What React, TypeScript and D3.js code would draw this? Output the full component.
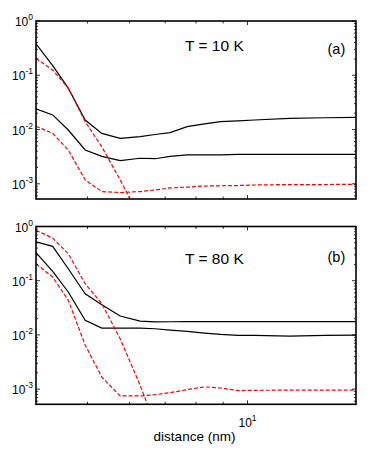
import React from "react";
import * as d3 from "d3";

// distance grid (nm)
const distance = [4.0, 4.3, 4.6, 4.95, 5.32, 5.76, 6.28, 6.7, 7.15, 7.7, 8.3, 8.9, 9.6, 10.3, 12, 14, 16];

// panel (a), T = 10 K
const solidHighA = [0.38, 0.15, 0.058, 0.015, 0.0085, 0.0069, 0.0074, 0.0081, 0.0088, 0.0113, 0.0127, 0.014, 0.0144, 0.015, 0.016, 0.0165, 0.0168];
const solidLowA = [0.024, 0.0186, 0.0098, 0.0042, 0.0032, 0.00267, 0.00296, 0.0029, 0.0032, 0.0034, 0.0034, 0.0034, 0.0035, 0.0035, 0.0035, 0.0035, 0.0035];
const dashHighA = [0.205, 0.125, 0.058, 0.014, 0.0048, 0.00118, 0.00023, null, null, null, null, null, null, null, null, null, null];
const dashLowA = [0.0115, 0.0085, 0.0042, 0.00118, 0.00072, 0.00069, 0.00072, 0.00077, 0.00084, 0.00087, 0.00091, 0.00092, 0.00093, 0.00095, 0.00097, 0.00097, 0.00098];

// panel (b), T = 80 K
const solidHighB = [0.52, 0.43, 0.166, 0.0575, 0.036, 0.0223, 0.018, 0.0174, 0.0175, 0.0176, 0.0176, 0.0176, 0.0176, 0.0176, 0.0176, 0.0176, 0.0176];
const solidLowB = [0.33, 0.149, 0.062, 0.0186, 0.0134, 0.0134, 0.0134, 0.013, 0.0123, 0.0116, 0.0108, 0.0102, 0.0098, 0.0098, 0.0095, 0.0098, 0.0099];
const dashHighB = [0.85, 0.61, 0.315, 0.088, 0.0377, 0.0085, 0.00118, 0.00022, null, null, null, null, null, null, null, null, null];
const dashLowB = [0.206, 0.117, 0.0435, 0.0065, 0.00167, 0.00075, 0.00075, 0.00079, 0.00086, 0.00098, 0.0011, 0.00105, 0.00094, 0.00095, 0.00096, 0.00096, 0.00096];

const yMajor = [1, 1e-1, 1e-2, 1e-3];
const yMajorExp = ["0", "-1", "-2", "-3"];
const xMinor = [5, 6, 7, 8, 9];
const xMajor = [10];
const xMajorExp = ["1"];

const W = 374;
const H = 450;
const left = 36;
const right = 356;
const font = "'Liberation Sans', Arial, Helvetica, sans-serif";

const panels = [
  { id: "a", top: 21, bottom: 199, title: "T = 10 K", tag: "(a)", titleY: 50.5, tagY: 54, series: [solidHighA, solidLowA, dashHighA, dashLowA], xLabels: false },
  { id: "b", top: 226.5, bottom: 404.3, title: "T = 80 K", tag: "(b)", titleY: 263.5, tagY: 262, series: [solidHighB, solidLowB, dashHighB, dashLowB], xLabels: true },
];

const x = d3.scaleLog().domain([4, 16]).range([left, right]);

function yMinorTicks(lo: number, hi: number) {
  const out: number[] = [];
  for (let e = -4; e <= 0; e++) {
    for (let k = 2; k <= 9; k++) {
      const v = k * Math.pow(10, e);
      if (v >= lo && v <= hi) out.push(v);
    }
  }
  return out;
}

const Panel = ({ p }: { p: (typeof panels)[number] }) => {
  const y = d3.scaleLog().domain([5.25e-4, 1]).range([p.bottom, p.top]);
  const line = d3
    .line<number | null>()
    .defined((d) => d != null)
    .x((d, i) => x(distance[i]))
    .y((d) => y(d as number));
  const minors = yMinorTicks(5.25e-4, 1);
  const styles = [
    { stroke: "#000", dash: undefined },
    { stroke: "#000", dash: undefined },
    { stroke: "#f00", dash: "4,2" },
    { stroke: "#f00", dash: "4,2" },
  ];
  return (
    <g>
      <defs>
        <clipPath id={"clip-" + p.id}>
          <rect x={left} y={p.top} width={right - left} height={p.bottom - p.top} />
        </clipPath>
      </defs>
      <g clipPath={`url(#clip-${p.id})`}>
        {p.series.map((s, i) => (
          <path
            key={i}
            d={line(s) || ""}
            fill="none"
            stroke={styles[i].stroke}
            strokeWidth={1.2}
            strokeDasharray={styles[i].dash}
          />
        ))}
      </g>
      {/* y ticks */}
      {minors.map((v) => (
        <g key={"ym" + v}>
          <line x1={left} x2={left + 2} y1={y(v)} y2={y(v)} stroke="#000" strokeWidth={0.8} />
          <line x1={right} x2={right - 2} y1={y(v)} y2={y(v)} stroke="#000" strokeWidth={0.8} />
        </g>
      ))}
      {yMajor.map((v, i) => (
        <g key={"yM" + v}>
          <line x1={left} x2={left + 4} y1={y(v)} y2={y(v)} stroke="#000" strokeWidth={0.8} />
          <line x1={right} x2={right - 4} y1={y(v)} y2={y(v)} stroke="#000" strokeWidth={0.8} />
          <text x={33} y={y(v) + 5} textAnchor="end" fontSize={12} fontFamily={font}>
            10
            <tspan dy={-6} fontSize={8.5}>{yMajorExp[i]}</tspan>
          </text>
        </g>
      ))}
      {/* x ticks */}
      {xMinor.map((v) => (
        <g key={"xm" + v}>
          <line x1={x(v)} x2={x(v)} y1={p.bottom} y2={p.bottom - 2.5} stroke="#000" strokeWidth={0.8} />
          <line x1={x(v)} x2={x(v)} y1={p.top} y2={p.top + 2.5} stroke="#000" strokeWidth={0.8} />
        </g>
      ))}
      {xMajor.map((v, i) => (
        <g key={"xM" + v}>
          <line x1={x(v)} x2={x(v)} y1={p.bottom} y2={p.bottom - 4} stroke="#000" strokeWidth={0.8} />
          <line x1={x(v)} x2={x(v)} y1={p.top} y2={p.top + 4} stroke="#000" strokeWidth={0.8} />
          {p.xLabels && (
            <text x={x(v)} y={p.bottom + 23} textAnchor="middle" fontSize={12} fontFamily={font}>
              10
              <tspan dy={-6} fontSize={8.5}>{xMajorExp[i]}</tspan>
            </text>
          )}
        </g>
      ))}
      <rect x={left} y={p.top} width={right - left} height={p.bottom - p.top} fill="none" stroke="#000" strokeWidth={1.6} />
      <text x={185} y={p.titleY} fontSize={15.5} fontFamily={font}>{p.title}</text>
      <text x={327.5} y={p.tagY} fontSize={14.5} fontFamily={font}>{p.tag}</text>
    </g>
  );
};

export default function App() {
  return (
    <div style={{ position: "absolute", left: 0, top: 0, width: W, height: H, background: "#fff" }}>
      <svg width={W} height={H} style={{ display: "block" }}>
        <rect width={W} height={H} fill="#fff" />
        {panels.map((p) => (
          <Panel key={p.id} p={p} />
        ))}
        <text x={194.5} y={441} textAnchor="middle" fontSize={13.5} fontFamily={font}>
          distance (nm)
        </text>
      </svg>
    </div>
  );
}
